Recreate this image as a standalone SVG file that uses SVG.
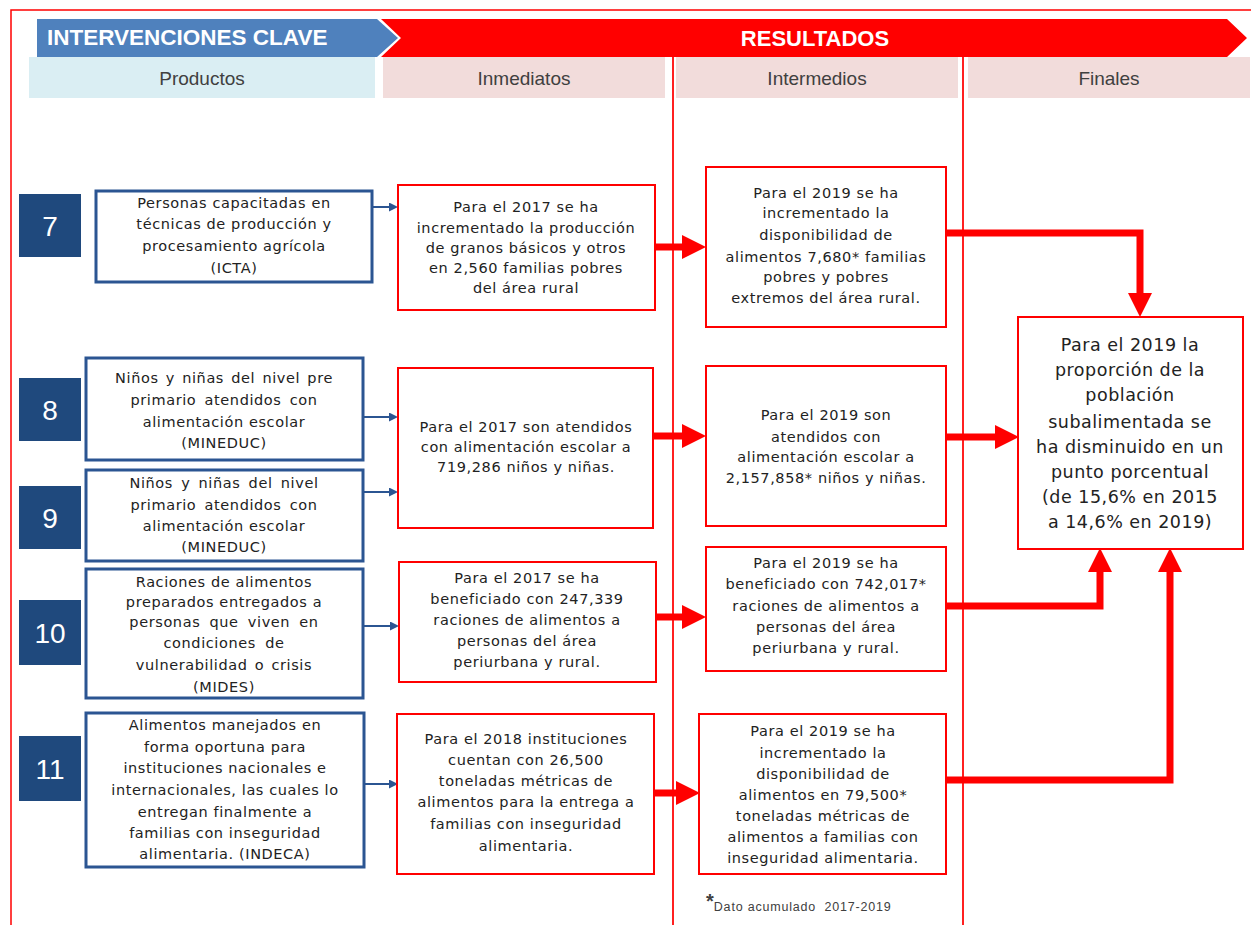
<svg xmlns="http://www.w3.org/2000/svg" width="1251" height="925" viewBox="0 0 1251 925">
<style>
.hd{font-family:"Liberation Sans",Arial,sans-serif;font-weight:bold;fill:#fff}
.sub{font-family:"Liberation Sans",Arial,sans-serif;font-size:19px;fill:#404040;text-anchor:middle}
.num{font-family:"Liberation Sans",Arial,sans-serif;font-size:28px;fill:#fff;text-anchor:middle}
.nb{fill:#1F497D}
.pb{fill:#fff;stroke:#2B5592;stroke-width:3}
.rb{fill:#fff;stroke:#FF0000;stroke-width:2}
.t{font-family:"DejaVu Sans",sans-serif;font-size:14.5px;letter-spacing:0.6px;fill:#222;text-anchor:middle}
.tf{font-family:"DejaVu Sans",sans-serif;font-size:17.5px;letter-spacing:0.5px;fill:#222;text-anchor:middle}
.ba{fill:none;stroke:#2B5592;stroke-width:2}
.ra{fill:none;stroke:#FF0000;stroke-width:7}
.vl{stroke:#FF2020;stroke-width:2}
</style>
<defs>
<marker id="bh" markerUnits="userSpaceOnUse" markerWidth="9" markerHeight="9" viewBox="0 0 9 9" refX="0" refY="4.5" orient="auto"><path d="M0,0 L9,4.5 L0,9 z" fill="#2B5592"/></marker>
<marker id="rh" markerUnits="userSpaceOnUse" markerWidth="24" markerHeight="24" viewBox="0 0 24 24" refX="0" refY="12" orient="auto"><path d="M0,0 L24,12 L0,24 z" fill="#FF0000"/></marker>
</defs>
<rect x="11" y="10" width="1260" height="940" fill="none" stroke="#FF0000" stroke-width="1.5"/>
<g id="header">
<polygon points="37,19 377,19 398,38 377,57 37,57" fill="#4F81BD"/>
<polygon points="381,19 1227,19 1247,38 1227,57 381,57 401,38" fill="#FF0000"/>
<text class="hd" x="47" y="45" font-size="22.5">INTERVENCIONES CLAVE</text>
<text class="hd" x="815" y="46" font-size="22" text-anchor="middle">RESULTADOS</text>
<rect x="29" y="57" width="346" height="41" fill="#DAEEF3"/>
<rect x="383" y="57" width="282" height="41" fill="#F2DCDB"/>
<rect x="676" y="57" width="282" height="41" fill="#F2DCDB"/>
<rect x="968" y="57" width="282" height="41" fill="#F2DCDB"/>
<text class="sub" x="202" y="85">Productos</text>
<text class="sub" x="524" y="85">Inmediatos</text>
<text class="sub" x="817" y="85">Intermedios</text>
<text class="sub" x="1109" y="85">Finales</text>
<line class="vl" x1="673" y1="57" x2="673" y2="925"/>
<line class="vl" x1="963" y1="57" x2="963" y2="925"/>
</g>
<g id="connectors">
<path class="ba" d="M372,207 H389" marker-end="url(#bh)"/>
<path class="ba" d="M363,417 H389" marker-end="url(#bh)"/>
<path class="ba" d="M363,492 H389" marker-end="url(#bh)"/>
<path class="ba" d="M363,626 H390" marker-end="url(#bh)"/>
<path class="ba" d="M364,784 H389" marker-end="url(#bh)"/>
<path class="ra" d="M655,247 H682" marker-end="url(#rh)"/>
<path class="ra" d="M653,436 H682" marker-end="url(#rh)"/>
<path class="ra" d="M657,617 H682" marker-end="url(#rh)"/>
<path class="ra" d="M655,793 H676" marker-end="url(#rh)"/>
<path class="ra" d="M946,233 H1140 V293" marker-end="url(#rh)"/>
<path class="ra" d="M946,437 H995" marker-end="url(#rh)"/>
<path class="ra" d="M946,606 H1100 V572" marker-end="url(#rh)"/>
<path class="ra" d="M946,780 H1170 V572" marker-end="url(#rh)"/>
</g>
<g id="n7"><rect class="nb" x="19" y="194" width="62" height="63"/><text class="num" x="50" y="236">7</text></g>
<g id="n8"><rect class="nb" x="19" y="378" width="62" height="63"/><text class="num" x="50" y="420">8</text></g>
<g id="n9"><rect class="nb" x="19" y="486" width="62" height="63"/><text class="num" x="50" y="528">9</text></g>
<g id="n10"><rect class="nb" x="19" y="600" width="62" height="65"/><text class="num" x="50" y="643">10</text></g>
<g id="n11"><rect class="nb" x="19" y="736" width="62" height="65"/><text class="num" x="50" y="779">11</text></g>
<g id="p7"><rect class="pb" x="96" y="191" width="276" height="91"/>
<text class="t" x="234"><tspan x="234" y="208">Personas capacitadas en</tspan><tspan x="234" y="229">técnicas de producción y</tspan><tspan x="234" y="251">procesamiento agrícola</tspan><tspan x="234" y="273">(ICTA)</tspan></text></g>
<g id="p8"><rect class="pb" x="86" y="358" width="277" height="102"/>
<text class="t" x="224"><tspan x="224" y="383" word-spacing="2">Niños y niñas del nivel pre</tspan><tspan x="224" y="405" word-spacing="3">primario atendidos con</tspan><tspan x="224" y="427">alimentación escolar</tspan><tspan x="224" y="448">(MINEDUC)</tspan></text></g>
<g id="p9"><rect class="pb" x="86" y="470" width="277" height="91"/>
<text class="t" x="224"><tspan x="224" y="488" word-spacing="3">Niños y niñas del nivel</tspan><tspan x="224" y="510" word-spacing="3">primario atendidos con</tspan><tspan x="224" y="531">alimentación escolar</tspan><tspan x="224" y="552">(MINEDUC)</tspan></text></g>
<g id="p10"><rect class="pb" x="86" y="569" width="277" height="129"/>
<text class="t" x="224"><tspan x="224" y="587">Raciones de alimentos</tspan><tspan x="224" y="607">preparados entregados a</tspan><tspan x="224" y="627" word-spacing="4">personas que viven en</tspan><tspan x="224" y="648" word-spacing="4">condiciones de</tspan><tspan x="224" y="670" word-spacing="2">vulnerabilidad o crisis</tspan><tspan x="224" y="692">(MIDES)</tspan></text></g>
<g id="p11"><rect class="pb" x="86" y="713" width="278" height="154"/>
<text class="t" x="225"><tspan x="225" y="730">Alimentos manejados en</tspan><tspan x="225" y="752">forma oportuna para</tspan><tspan x="225" y="773">instituciones nacionales e</tspan><tspan x="225" y="795">internacionales, las cuales lo</tspan><tspan x="225" y="817">entregan finalmente a</tspan><tspan x="225" y="838">familias con inseguridad</tspan><tspan x="225" y="859">alimentaria. (INDECA)</tspan></text></g>
<g id="i7"><rect class="rb" x="398" y="185" width="257" height="125"/>
<text class="t" x="526"><tspan x="526" y="212">Para el 2017 se ha</tspan><tspan x="526" y="233">incrementado la producción</tspan><tspan x="526" y="253">de granos básicos y otros</tspan><tspan x="526" y="273">en 2,560 familias pobres</tspan><tspan x="526" y="293">del área rural</tspan></text></g>
<g id="i8"><rect class="rb" x="398" y="368" width="255" height="160"/>
<text class="t" x="526"><tspan x="526" y="432">Para el 2017 son atendidos</tspan><tspan x="526" y="452">con alimentación escolar a</tspan><tspan x="526" y="472">719,286 niños y niñas.</tspan></text></g>
<g id="i10"><rect class="rb" x="399" y="562" width="257" height="120"/>
<text class="t" x="527"><tspan x="527" y="583">Para el 2017 se ha</tspan><tspan x="527" y="604">beneficiado con 247,339</tspan><tspan x="527" y="625">raciones de alimentos a</tspan><tspan x="527" y="646">personas del área</tspan><tspan x="527" y="667">periurbana y rural.</tspan></text></g>
<g id="i11"><rect class="rb" x="397" y="714" width="257" height="160"/>
<text class="t" x="526"><tspan x="526" y="744">Para el 2018 instituciones</tspan><tspan x="526" y="765">cuentan con 26,500</tspan><tspan x="526" y="786">toneladas métricas de</tspan><tspan x="526" y="807">alimentos para la entrega a</tspan><tspan x="526" y="829">familias con inseguridad</tspan><tspan x="526" y="851">alimentaria.</tspan></text></g>
<g id="m7"><rect class="rb" x="706" y="167" width="240" height="160"/>
<text class="t" x="826"><tspan x="826" y="198">Para el 2019 se ha</tspan><tspan x="826" y="218">incrementado la</tspan><tspan x="826" y="240">disponibilidad de</tspan><tspan x="826" y="262">alimentos 7,680* familias</tspan><tspan x="826" y="282">pobres y pobres</tspan><tspan x="826" y="303">extremos del área rural.</tspan></text></g>
<g id="m8"><rect class="rb" x="706" y="366" width="240" height="160"/>
<text class="t" x="826"><tspan x="826" y="420">Para el 2019 son</tspan><tspan x="826" y="442">atendidos con</tspan><tspan x="826" y="462">alimentación escolar a</tspan><tspan x="826" y="483">2,157,858* niños y niñas.</tspan></text></g>
<g id="m10"><rect class="rb" x="706" y="547" width="240" height="124"/>
<text class="t" x="826"><tspan x="826" y="568">Para el 2019 se ha</tspan><tspan x="826" y="589">beneficiado con 742,017*</tspan><tspan x="826" y="611">raciones de alimentos a</tspan><tspan x="826" y="632">personas del área</tspan><tspan x="826" y="653">periurbana y rural.</tspan></text></g>
<g id="m11"><rect class="rb" x="699" y="714" width="247" height="160"/>
<text class="t" x="823"><tspan x="823" y="736">Para el 2019 se ha</tspan><tspan x="823" y="758">incrementado la</tspan><tspan x="823" y="779">disponibilidad de</tspan><tspan x="823" y="800">alimentos en 79,500*</tspan><tspan x="823" y="821">toneladas métricas de</tspan><tspan x="823" y="842">alimentos a familias con</tspan><tspan x="823" y="863">inseguridad alimentaria.</tspan></text></g>
<g id="final"><rect class="rb" x="1018" y="317" width="225" height="232"/>
<text class="tf" x="1130"><tspan x="1130" y="351">Para el 2019 la</tspan><tspan x="1130" y="376">proporción de la</tspan><tspan x="1130" y="401">población</tspan><tspan x="1130" y="428">subalimentada se</tspan><tspan x="1130" y="453">ha disminuido en un</tspan><tspan x="1130" y="478">punto porcentual</tspan><tspan x="1130" y="503">(de 15,6% en 2015</tspan><tspan x="1130" y="528">a 14,6% en 2019)</tspan></text></g>
<g id="note"><text x="706" y="908" font-family="Liberation Sans, Arial, sans-serif" fill="#404040" style="white-space:pre"><tspan font-size="20" font-weight="bold">*</tspan><tspan font-size="12.5" letter-spacing="0.8" dy="3">Dato acumulado  2017-2019</tspan></text></g>
</svg>
